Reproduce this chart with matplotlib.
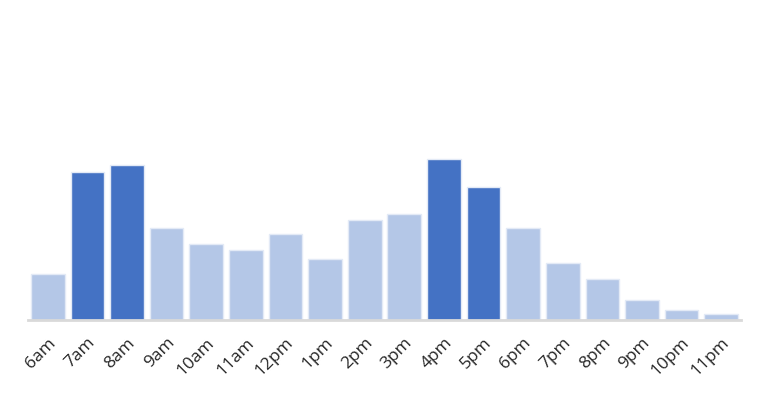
import matplotlib
matplotlib.use("Agg")
import matplotlib.pyplot as plt

hours = ["6am", "7am", "8am", "9am", "10am", "11am", "12pm", "1pm", "2pm",
         "3pm", "4pm", "5pm", "6pm", "7pm", "8pm", "9pm", "10pm", "11pm"]
values = [46, 148, 155, 92, 76, 70, 86, 61, 100, 106, 161, 133, 92, 57, 40.5, 19.5, 9.5, 5.5]
highlight = [False, True, True, False, False, False, False, False, False,
             False, True, True, False, False, False, False, False, False]

DARK = "#4472C4"
LIGHT = "#B4C7E7"

fig = plt.figure(figsize=(7.65, 3.95), dpi=100)
ax = fig.add_axes([28 / 765, (395 - 319.5) / 395, (741 - 28) / 765, 299.5 / 395])

x = list(range(len(hours)))
colors = [DARK if h else LIGHT for h in highlight]
ax.bar(x, values, width=0.85, color=colors, edgecolor="#e3eaf6", linewidth=1.0, zorder=2)

ax.set_xlim(-0.5, len(hours) - 0.5)
ax.set_ylim(0, 299.5)
for s in ["top", "right", "left"]:
    ax.spines[s].set_visible(False)
ax.spines["bottom"].set_color("#d9d9d9")
ax.spines["bottom"].set_linewidth(2)
ax.spines["bottom"].set_zorder(3)
ax.set_yticks([])
ax.set_xticks(x)
ax.set_xticklabels(hours, rotation=45, ha="right", rotation_mode="anchor",
                   fontsize=12.5, color="#262626", family="Open Sans")
ax.tick_params(axis="x", length=0, pad=11)

fig.savefig("out.png", dpi=100)
